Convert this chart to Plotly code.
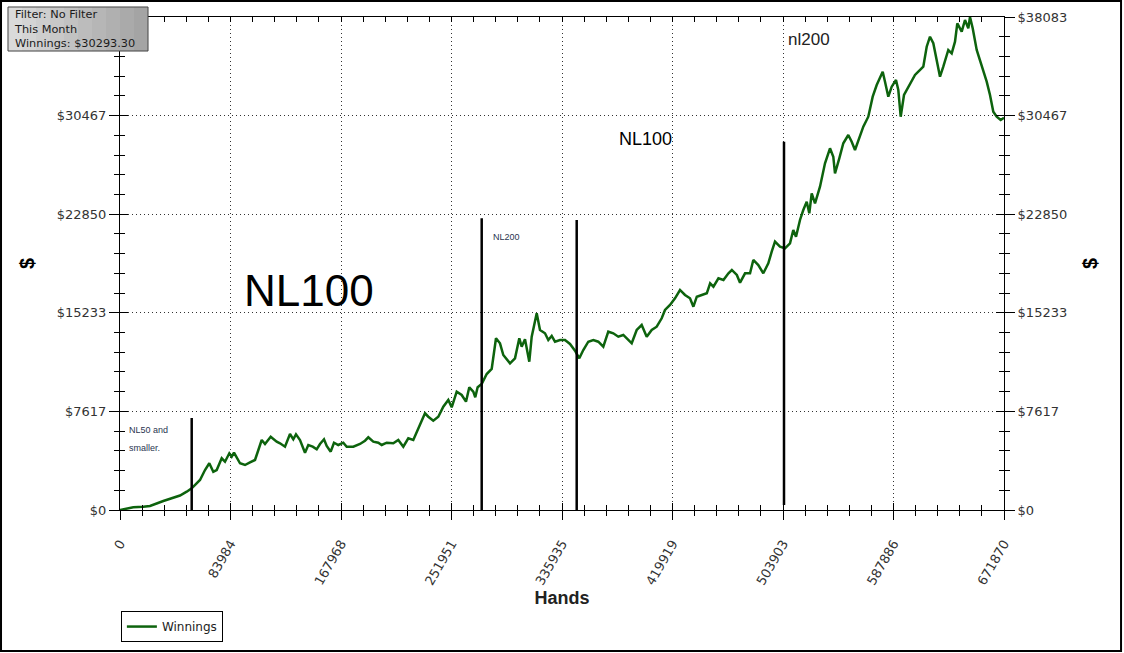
import plotly.graph_objects as go

# ---------------- data ----------------
hands = [0, 10108, 17709, 22801, 32909, 38002, 45602, 50694, 54494, 60802, 64603, 67871, 70911, 73495, 77295,
         79803, 83071, 84895, 86643, 91204, 95004, 98804, 102604, 107696, 110204, 114537, 119097, 121605, 125405,
         129205, 131713, 133765, 136805, 140606, 143114, 146458, 149498, 152006, 155046, 157098, 160138, 162646,
         165915, 169715, 172299, 177315, 182407, 186207, 188716, 192516, 196316, 198900, 202700, 207716, 211516,
         215317, 219117, 222917, 226717, 231809, 234317, 238117, 241918, 245718, 249518, 252102, 255902, 259702,
         262967, 265474, 268515, 270007, 271815, 274907, 278707, 282507, 285771, 288808, 291319, 296412, 300212,
         303480, 305304, 307812, 311080, 312904, 316704, 319213, 323013, 325521, 328105, 330613, 334413, 338213,
         342014, 345814, 349082, 352122, 355922, 359722, 363522, 367323, 371123, 374923, 378723, 382523, 386323,
         388908, 392708, 396508, 400308, 404108, 407908, 411709, 414217, 418017, 421817, 425617, 429417, 433217,
         435801, 438385, 442186, 445986, 448514, 451034, 454834, 458634, 462434, 465018, 468818, 471255, 475055,
         478855, 481338, 485138, 488938, 492738, 495322, 497820, 501620, 505420, 509220, 511728, 513780, 516820,
         519329, 521913, 523889, 525713, 528221, 532021, 535821, 539621, 542129, 543422, 546690, 549730, 553530,
         556114, 558622, 561891, 564931, 568731, 572075, 575115, 577623, 579675, 581423, 583931, 586515, 589783,
         591531, 593355, 595864, 600424, 604224, 606732, 610532, 613116, 615624, 618132, 620717, 623225, 625733,
         629533, 632117, 634625, 636373, 639717, 642225, 644733, 646026, 648078, 651118, 653626, 656134, 658718,
         661226, 663734, 666318, 669358, 671870]

winnings = [0, 209, 255, 309, 695, 850, 1120, 1414, 1676, 2318, 3090, 3608, 2959, 3090, 3994, 3731, 4380, 4117,
            4426, 3608, 3476, 3685, 3863, 5408, 5099, 5662, 5276, 5153, 4890, 5871, 5462, 5848, 5408, 4426, 5021,
            4890, 4689, 5099, 5462, 4944, 4504, 5199, 5021, 5199, 4890, 4890, 5099, 5353, 5616, 5276, 5199, 5021,
            5199, 5153, 5408, 4890, 5539, 5408, 6311, 7470, 7207, 6898, 7207, 7980, 8498, 7934, 9139, 8884, 8366,
            9479, 9139, 8706, 9479, 9734, 10506, 10892, 13264, 12878, 11974, 11333, 11719, 13264, 12615, 13187,
            11456, 13387, 15195, 13905, 13650, 13133, 13442, 13001, 13133, 13133, 12824, 12306, 11719, 12360, 13001,
            13133, 13001, 12615, 13774, 13650, 13387, 13519, 13133, 12878, 13905, 14291, 13387, 13905, 14160, 14809,
            15450, 15836, 16354, 16995, 16609, 16354, 15705, 16477, 16609, 16740, 17513, 17250, 17899, 17768, 18285,
            18540, 18154, 17559, 18285, 18285, 19313, 18926, 18285, 19058, 19954, 20726, 20340, 20216, 20603, 21630,
            21112, 22403, 23175, 23816, 22920, 24465, 23693, 24975, 26783, 27941, 27292, 26010, 27169, 28328, 28969,
            28451, 27810, 28837, 29610, 30382, 31927, 32831, 33472, 33859, 33086, 31927, 32700, 33218, 32445, 30382,
            32059, 32963, 33604, 33859, 34245, 35790, 36562, 36053, 34763, 33472, 34245, 35535, 35280, 36176, 37598,
            36949, 37853, 37211, 38083, 37211, 35535, 34763, 33990, 33086, 32059, 30769, 30382, 30128, 30293]

assert len(hands) == len(winnings), (len(hands), len(winnings))

x_tick_vals = [0, 83984, 167968, 251951, 335935, 419919, 503903, 587886, 671870]
x_tick_text = ["0", "83984", "167968", "251951", "335935", "419919", "503903", "587886", "671870"]
y_tick_vals = [0, 7617, 15233, 22850, 30467, 38083]
y_tick_text = ["$0", "$7617", "$15233", "$22850", "$30467", "$38083"]

# vertical markers where the stakes changed
marker_hands = [54494, 274903, 347106, 504660]
marker_top = [7107, 22534, 22403, 28451]
marker_bottom = [0, 0, 0, 386]

summary_lines = ["Filter: No Filter", "This Month", "Winnings: $30293.30"]

# ---------------- figure ----------------
X_MAX = x_tick_vals[-1]
Y_MAX = y_tick_vals[-1]
TICK_FONT = dict(family="DejaVu Sans", size=13, color="#333333")
LABEL_FONT = "Liberation Sans, Arial, sans-serif"
GRID_DASH = "1px,3px"

# on the left the top label sits under the summary box in the reference, so it is left blank there
left_tick_text = y_tick_text[:-1] + [""]

fig = go.Figure()
fig.add_trace(go.Scatter(x=hands, y=winnings, mode="lines", name="Winnings",
                         line=dict(color="#0d630d", width=2.5)))

# empty helper traces so that the extra (tick-only) axes get drawn
for xa, ya in [("x2", "y"), ("x3", "y"), ("x", "y2"), ("x", "y3"), ("x", "y4")]:
    fig.add_trace(go.Scatter(x=[None], y=[None], xaxis=xa, yaxis=ya, mode="lines",
                             showlegend=False, hoverinfo="skip"))

for xh, yt, yb in zip(marker_hands, marker_top, marker_bottom):
    fig.add_shape(type="line", xref="x", yref="y", x0=xh, x1=xh, y0=yb, y1=yt,
                  line=dict(color="black", width=2.5))

xminor_out = dict(ticks="outside", ticklen=5, tickcolor="black", tickmode="linear", tick0=0, dtick=X_MAX / 40)
xminor_in = dict(ticks="inside", ticklen=5, tickcolor="black", tickmode="linear", tick0=0, dtick=X_MAX / 40)
yminor_out = dict(ticks="outside", ticklen=5, tickcolor="black", tickmode="linear", tick0=0, dtick=Y_MAX / 25)
yminor_in = dict(ticks="inside", ticklen=5, tickcolor="black", tickmode="linear", tick0=0, dtick=Y_MAX / 25)

common_x = dict(range=[0, X_MAX], tickmode="array", tickvals=x_tick_vals, zeroline=False, automargin=False,
                fixedrange=True)
common_y = dict(range=[0, Y_MAX], tickmode="array", tickvals=y_tick_vals, zeroline=False, automargin=False,
                fixedrange=True)
dollar_title = dict(text="<b>$</b>", font=dict(family=LABEL_FONT, size=20, color="black"), standoff=16)

fig.update_layout(
    width=1124, height=653,
    margin=dict(l=120, r=120, t=17, b=143, autoexpand=False),
    paper_bgcolor="white", plot_bgcolor="white",
    showlegend=True,
    legend=dict(x=0.001, y=-0.205, xanchor="left", yanchor="top", bordercolor="black", borderwidth=1,
                bgcolor="white", font=dict(family="DejaVu Sans", size=12, color="#222222"), itemwidth=30),
    xaxis=dict(**common_x, ticktext=x_tick_text, tickangle=-60, tickfont=TICK_FONT,
               ticks="outside", ticklen=9, tickcolor="black", ticklabelstandoff=11,
               showline=True, linecolor="black", linewidth=1,
               showgrid=True, gridcolor="#333333", griddash=GRID_DASH, gridwidth=1,
               minor=xminor_out,
               title=dict(text="<b>Hands</b>", font=dict(family=LABEL_FONT, size=18, color="#222222"),
                          standoff=3)),
    xaxis2=dict(**common_x, overlaying="x", side="bottom", anchor="y", showticklabels=False,
                ticks="inside", ticklen=7, tickcolor="black", showgrid=False, showline=False, minor=xminor_in),
    xaxis3=dict(**common_x, overlaying="x", side="top", anchor="y", showticklabels=False,
                ticks="inside", ticklen=5, tickcolor="black", showgrid=False, showline=True,
                linecolor="black", linewidth=1, minor=xminor_in),
    yaxis=dict(**common_y, ticktext=left_tick_text, tickfont=TICK_FONT, side="left",
               ticks="outside", ticklen=10, tickcolor="black",
               showline=True, linecolor="black", linewidth=1,
               showgrid=True, gridcolor="#333333", griddash=GRID_DASH, gridwidth=1,
               minor=yminor_out, title=dollar_title),
    yaxis2=dict(**common_y, overlaying="y", side="left", anchor="x", showticklabels=False,
                ticks="inside", ticklen=8, tickcolor="black", showgrid=False, showline=False, minor=yminor_in),
    yaxis3=dict(**common_y, ticktext=y_tick_text, tickfont=TICK_FONT, overlaying="y", side="right", anchor="x",
                ticks="outside", ticklen=10, tickcolor="black", showgrid=False,
                showline=True, linecolor="black", linewidth=1, minor=yminor_out, title=dollar_title),
    yaxis4=dict(**common_y, overlaying="y", side="right", anchor="x", showticklabels=False,
                ticks="inside", ticklen=8, tickcolor="black", showgrid=False, showline=False, minor=yminor_in),
)

# outer frame of the picture
fig.add_shape(type="rect", xref="paper", yref="paper", x0=-0.1346, x1=1.1324, y0=-0.286, y1=1.0325,
              line=dict(color="black", width=2), fillcolor="rgba(0,0,0,0)", layer="above")

# summary box (top-left) with a light-to-dark gray shading
BOX_X0, BOX_X1, BOX_Y0, BOX_Y1 = -0.1267, 0.0317, 0.931, 1.0203
shades = ["#dadada", "#d4d4d4", "#cecece", "#c8c8c8", "#c2c2c2", "#bcbcbc", "#b6b6b6", "#b0b0b0",
          "#aaaaaa", "#a4a4a4"]
step = (BOX_X1 - BOX_X0) / len(shades)
for i, shade in enumerate(shades):
    fig.add_shape(type="rect", xref="paper", yref="paper", x0=BOX_X0 + i * step, x1=BOX_X0 + (i + 1) * step,
                  y0=BOX_Y0, y1=BOX_Y1, line=dict(width=0), fillcolor=shade, layer="above")
fig.add_shape(type="rect", xref="paper", yref="paper", x0=BOX_X0, x1=BOX_X1, y0=BOX_Y0, y1=BOX_Y1,
              line=dict(color="#444444", width=1), fillcolor="rgba(0,0,0,0)", layer="above")
fig.add_annotation(xref="paper", yref="paper", x=-0.1225, y=1.0225, xanchor="left", yanchor="top",
                   showarrow=False, align="left", text="<br>".join(summary_lines),
                   font=dict(family="DejaVu Sans", size=11.3, color="#1a1a1a"))

# stake labels
SMALL = dict(family=LABEL_FONT, size=9, color="#2a3550")
fig.add_annotation(x=5320, y=6180, xref="x", yref="y", text="NL50 and", showarrow=False, xanchor="left",
                   yanchor="middle", font=SMALL)
fig.add_annotation(x=5320, y=4790, xref="x", yref="y", text="smaller.", showarrow=False, xanchor="left",
                   yanchor="middle", font=SMALL)
fig.add_annotation(x=281971, y=21089, xref="x", yref="y", text="NL200", showarrow=False, xanchor="left",
                   yanchor="middle", font=SMALL)
fig.add_annotation(x=92724, y=16918, xref="x", yref="y", text="NL100", showarrow=False, xanchor="left",
                   yanchor="middle", font=dict(family=LABEL_FONT, size=44, color="black"))
fig.add_annotation(x=377735, y=28660, xref="x", yref="y", text="NL100", showarrow=False, xanchor="left",
                   yanchor="middle", font=dict(family=LABEL_FONT, size=18, color="black"))
fig.add_annotation(x=506180, y=36308, xref="x", yref="y", text="nl200", showarrow=False, xanchor="left",
                   yanchor="middle", font=dict(family=LABEL_FONT, size=17, color="#222222"))

fig.write_html("out.html", config={"displayModeBar": False},
               post_script="document.body.style.margin='0px';")
